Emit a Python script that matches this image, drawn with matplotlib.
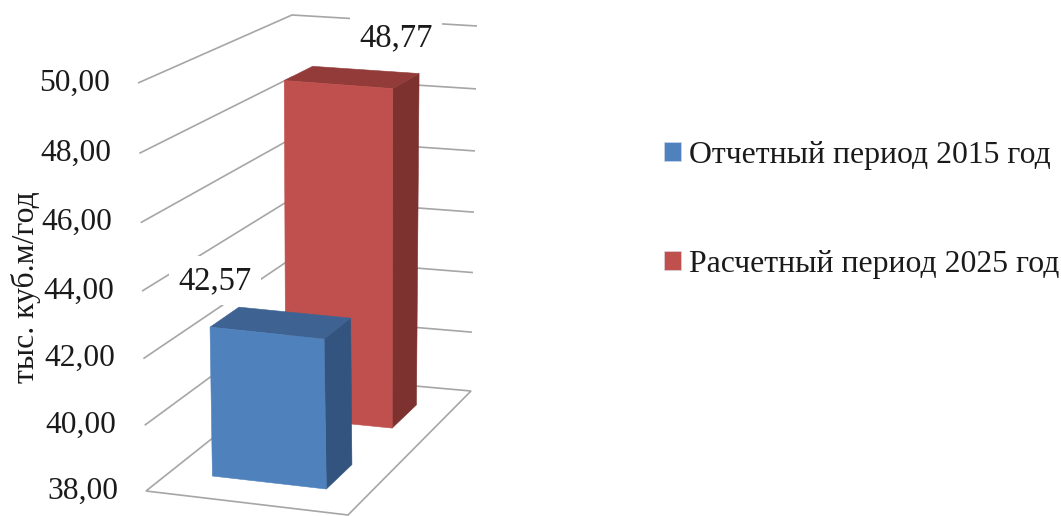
import numpy as np
import matplotlib
matplotlib.use("Agg")
import matplotlib.pyplot as plt
from matplotlib.patches import Polygon, Patch

plt.rcParams['font.family'] = ['Liberation Serif', 'DejaVu Serif']

# ---- data ----
series_names = ['Отчетный период 2015 год', 'Расчетный период 2025 год']
series_values = [42.57, 48.77]
value_labels = ['42,57', '48,77']
axis_ticks = [38, 40, 42, 44, 46, 48, 50]
tick_labels = ['38,00', '40,00', '42,00', '44,00', '46,00', '48,00', '50,00']
axis_title = 'тыс. куб.м/год'

# ---- styles ----
front_cols = ['#4F81BD', '#C0504D']
top_cols = ['#3E6392', '#933B39']
side_cols = ['#32547E', '#7D322F']
grid_col = '#A6A6A6'
text_col = '#1A1A1A'

# ---- camera: the box corners on the page (front/back, left/right, bottom/top) ----
VMIN, VMAX = axis_ticks[0], axis_ticks[-1]
C = {
    'FLb': (146, 491), 'FRb': (348, 515), 'BLb': (292, 375), 'BRb': (471, 391),
    'FLt': (138, 83), 'FRt': (340, 102), 'BLt': (292, 15), 'BRt': (477, 26),
}
C = {k: np.array(p, float) for k, p in C.items()}


def proj(u, v, val):
    """u across the floor, v into the depth, val on the value axis."""
    t = (val - VMIN) / (VMAX - VMIN)
    t = t / (1.0408 - 0.0408 * t)
    bot = (1 - v) * ((1 - u) * C['FLb'] + u * C['FRb']) + v * ((1 - u) * C['BLb'] + u * C['BRb'])
    top = (1 - v) * ((1 - u) * C['FLt'] + u * C['FRt']) + v * ((1 - u) * C['BLt'] + u * C['BRt'])
    return (1 - t) * bot + t * top


W, H = 1061, 516
fig = plt.figure(figsize=(W / 100, H / 100), dpi=100)
ax = fig.add_axes([0, 0, 1, 1])
ax.set_xlim(0, W)
ax.set_ylim(H, 0)
ax.axis('off')

# floor
floor = [proj(0, 0, VMIN), proj(1, 0, VMIN), proj(1, 1, VMIN), proj(0, 1, VMIN)]
ax.add_patch(Polygon(floor, closed=True, fc='white', ec=grid_col, lw=1.2, zorder=1))

# gridlines on the two walls
for val in axis_ticks[1:]:
    pts = np.array([proj(0, 0, val), proj(0, 1, val), proj(1, 1, val)])
    ax.plot(pts[:, 0], pts[:, 1], color=grid_col, lw=1.2, zorder=1, solid_capstyle='butt')

# tick labels
for val, lab in zip(axis_ticks, tick_labels):
    x, y = proj(0, 0, val)
    ax.text(x - 28, y, lab, ha='right', va='center', fontsize=22.7, color=text_col, zorder=5)

ax.text(26, 287, axis_title, rotation=90, ha='center', va='center', fontsize=22.8, color=text_col)

# bars
bar_u = [(0.21, 0.785), (0.225, 0.795)]
bar_v = [(0.17, 0.37), (0.67, 0.86)]
label_off = [(-66, -42), (44, -39)]
for i in [1, 0]:
    val = series_values[i]
    u0, u1 = bar_u[i]
    v0, v1 = bar_v[i]
    z = 3 if i == 1 else 4
    front = [proj(u0, v0, VMIN), proj(u1, v0, VMIN), proj(u1, v0, val), proj(u0, v0, val)]
    side = [proj(u1, v0, VMIN), proj(u1, v1, VMIN), proj(u1, v1, val), proj(u1, v0, val)]
    top = [proj(u0, v0, val), proj(u1, v0, val), proj(u1, v1, val), proj(u0, v1, val)]
    ax.add_patch(Polygon(side, closed=True, fc=side_cols[i], ec=side_cols[i], lw=0.4, zorder=z))
    ax.add_patch(Polygon(top, closed=True, fc=top_cols[i], ec=top_cols[i], lw=0.4, zorder=z))
    ax.add_patch(Polygon(front, closed=True, fc=front_cols[i], ec=front_cols[i], lw=0.4, zorder=z))
    cx, cy = np.mean(top, axis=0)
    ax.text(cx + label_off[i][0], cy + label_off[i][1], value_labels[i], ha='center', va='center',
            fontsize=23.5, color=text_col, zorder=6,
            bbox=dict(fc='white', ec='none', pad=6.5))

# legend
handles = [Patch(fc=front_cols[i], ec='#D5DDE8', lw=0.4, label=series_names[i]) for i in range(2)]
ax.legend(handles=handles, loc='center left', bbox_to_anchor=(664 / W, 1 - 210 / H),
          frameon=False, fontsize=22.9, labelcolor=text_col,
          handlelength=0.54, handleheight=0.54, handletextpad=0.24,
          labelspacing=2.51, borderpad=0, borderaxespad=0)

fig.savefig('out.png', dpi=100)
